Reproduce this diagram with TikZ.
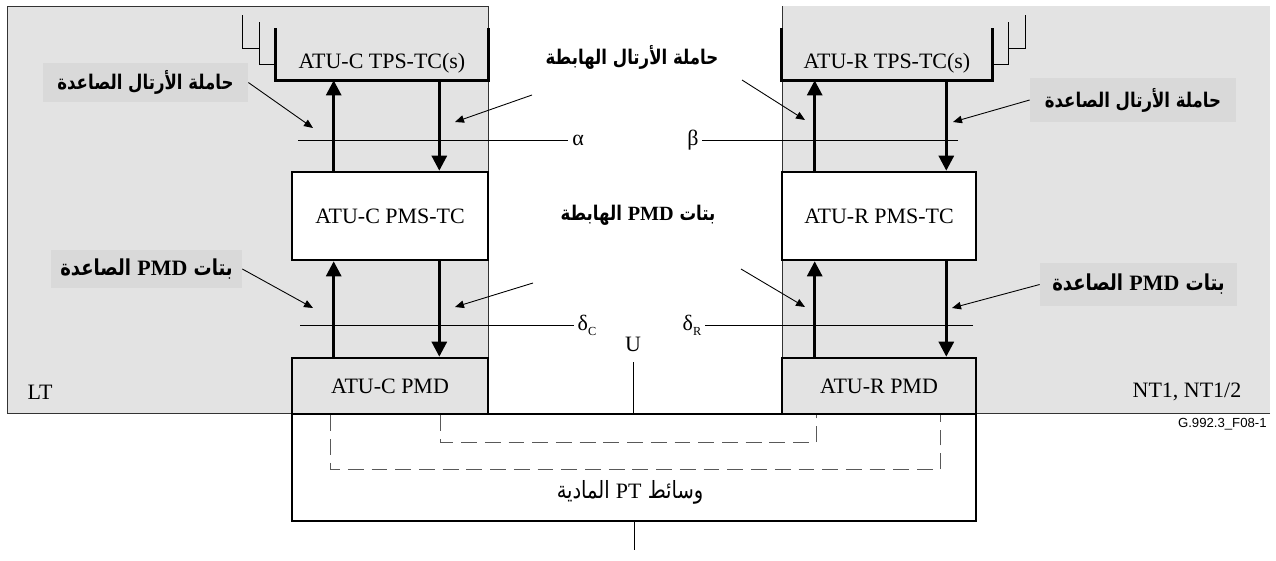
\documentclass[tikz,border=0pt]{standalone}
\usepackage{fontspec}
\setmainfont{Liberation Serif}
\setsansfont{Liberation Sans}
\newfontfamily\arabicfont[Script=Arabic, FakeStretch=0.82]{DejaVu Sans}
\TeXXeTstate=1
\usetikzlibrary{arrows.meta, positioning}

\newcommand{\artext}[1]{{\arabicfont\beginR #1\endR}}
\newcommand{\ltrword}[1]{\beginL{\rmfamily #1}\endL{}}

\begin{document}
\begin{tikzpicture}[
    x=0.02cm, y=-0.02cm,
    zone/.style={fill=gray!22, draw=black!80, line width=0.5pt},
    box/.style={rectangle, draw, line width=1.5pt, align=center, inner sep=0pt, font=\fontsize{12.5}{15}\selectfont},
    opentop/.style={rectangle, align=center, inner sep=0pt, minimum height=0.68cm, font=\fontsize{12.5}{15}\selectfont},
    edge/.style={line width=1.5pt},
    bracket/.style={line width=0.8pt},
    flow/.style={-{Triangle[length=0.3cm, width=0.3cm]}, line width=1.6pt},
    pointer/.style={-{Triangle[length=0.18cm, width=0.15cm]}, line width=0.5pt},
    refline/.style={line width=0.5pt},
    tag/.style={rectangle, fill=gray!30, inner sep=0pt, font=\fontsize{11.5}{13}\selectfont\bfseries},
    headline/.style={font=\fontsize{11.5}{13}\selectfont\bfseries},
    plain/.style={font=\fontsize{12.5}{15}\selectfont, inner sep=2pt},
    loopline/.style={gray!70!black, line width=0.6pt, dash pattern=on 9pt off 4.5pt},
]
\useasboundingbox (0,0) rectangle (1276,561);

% Equipment zones
\draw[zone] (7,6) rectangle (488,413);
\fill[gray!22] (782,6) rectangle (1270,413);
\draw[line width=0.5pt, black!80] (1270,413) -- (782,413) -- (782,6);

% Medium
\node[box, fill=white, minimum width=13.68cm, minimum height=2.14cm] (medium) at (634,467.5) {};
\node[font=\fontsize{13.5}{15}\selectfont] (mediumtxt) at (630,492) {\artext{وسائط \ltrword{\fontsize{12.5}{15}\selectfont PT} المادية}};

% ATU-C stack
\node[opentop, minimum width=4.24cm] (tpsC) at (382,63) {ATU-C TPS-TC(s)};
\node[box, fill=white, minimum width=3.92cm, minimum height=1.76cm] (pmsC) at (390,216) {ATU-C PMS-TC};
\node[box, fill=gray!22, minimum width=3.92cm, minimum height=1.12cm] (pmdC) at (390,386) {ATU-C PMD};

% ATU-R stack
\node[opentop, minimum width=4.2cm] (tpsR) at (887,63) {ATU-R TPS-TC(s)};
\node[box, fill=white, minimum width=3.88cm, minimum height=1.76cm] (pmsR) at (879,216) {ATU-R PMS-TC};
\node[box, fill=gray!22, minimum width=3.88cm, minimum height=1.12cm] (pmdR) at (879,386) {ATU-R PMD};

% Open TPS-TC boxes and their stacked copies
\draw[edge] ([yshift=1.04cm]tpsC.south west) -- (tpsC.south west) -- (tpsC.south east) -- ([yshift=1.04cm]tpsC.south east);
\draw[bracket] ([yshift=0.32cm]tpsC.south west) -| ++(-16,-42);
\draw[bracket] ([xshift=-0.32cm, yshift=0.64cm]tpsC.south west) -| ++(-17,-33);
\draw[edge] ([yshift=1.04cm]tpsR.south west) -- (tpsR.south west) -- (tpsR.south east) -- ([yshift=1.04cm]tpsR.south east);
\draw[bracket] ([yshift=0.32cm]tpsR.south east) -| ++(16,-42);
\draw[bracket] ([xshift=0.32cm, yshift=0.64cm]tpsR.south east) -| ++(17,-33);

% Data flows
\coordinate (laneCu) at ([xshift=0.86cm]pmdC.north west);
\coordinate (laneCd) at ([xshift=-1.0cm]pmdC.north east);
\coordinate (laneRu) at ([xshift=0.68cm]pmdR.north west);
\coordinate (laneRd) at ([xshift=-0.62cm]pmdR.north east);
\draw[flow] (laneCu) -- (laneCu |- pmsC.south);
\draw[flow] (laneCu |- pmsC.north) -- (laneCu |- tpsC.south);
\draw[flow] (laneCd |- tpsC.south) -- (laneCd |- pmsC.north);
\draw[flow] (laneCd |- pmsC.south) -- (laneCd);
\draw[flow] (laneRu) -- (laneRu |- pmsR.south);
\draw[flow] (laneRu |- pmsR.north) -- (laneRu |- tpsR.south);
\draw[flow] (laneRd |- tpsR.south) -- (laneRd |- pmsR.north);
\draw[flow] (laneRd |- pmsR.south) -- (laneRd);

% Physical loop through the medium
\draw[loopline] ([xshift=3cm]pmdC.south west) -- ++(0,27) -| ([xshift=0.72cm]pmdR.south west);
\draw[loopline] ([xshift=0.8cm]pmdC.south west) -- ++(0,54) -| ([xshift=3.2cm]pmdR.south west);

% Reference points
\node[plain] (alpha) at (578,140) {α};
\node[plain] (beta)  at (693,140) {β};
\node[plain] (deltaC) at (587,325) {δ\raisebox{-0.5ex}{\fontsize{7}{8}\selectfont C}};
\node[plain] (deltaR) at (692,325) {δ\raisebox{-0.5ex}{\fontsize{7}{8}\selectfont R}};
\node[plain] (uref) at (633,344) {U};
\coordinate (alphaEnd) at (298,140);
\coordinate (betaEnd) at (958,140);
\coordinate (deltaCEnd) at (300,325);
\coordinate (deltaREnd) at (973,325);
\coordinate (feed) at (634,550);
\draw[refline] (alphaEnd) -- (alphaEnd -| alpha.west);
\draw[refline] (betaEnd) -- (betaEnd -| beta.east);
\draw[refline] (deltaCEnd) -- (deltaCEnd -| deltaC.west);
\draw[refline] (deltaREnd) -- (deltaREnd -| deltaR.east);
\draw[refline] ([yshift=-4pt]uref.south) -- (uref.south |- medium.north);
\draw[refline] (medium.south) -- (feed);

% Labels
\node[tag, minimum width=4.1cm, minimum height=0.78cm] (upfC) at (145.5,82.5) {\artext{حاملة الأرتال الصاعدة}};
\node[tag, minimum width=4.12cm, minimum height=0.9cm] (upfR) at (1133,100) {\artext{حاملة الأرتال الصاعدة}};
\node[tag, font=\fontsize{12.5}{14}\selectfont\bfseries, minimum width=3.82cm, minimum height=0.76cm] (pmdupC) at (146.5,269) {\artext{بتات \ltrword{PMD} الصاعدة}};
\node[tag, font=\fontsize{12.5}{14}\selectfont\bfseries, minimum width=3.94cm, minimum height=0.86cm] (pmdupR) at (1138.5,284.5) {\artext{بتات \ltrword{PMD} الصاعدة}};
\node[headline] (dnf) at (632,57) {\artext{حاملة الأرتال الهابطة}};
\node[headline] (dnpmd) at (638,215) {\artext{بتات \ltrword{PMD} الهابطة}};

\node[plain] (lt) at (40,392) {LT};
\node[plain] (nt) at (1187,392) {NT1, NT1/2};
\node[anchor=east, inner sep=0pt, font=\sffamily\fontsize{7.5}{9}\selectfont] (figid) at (1267,424) {G.992.3\_F08-1};

% Pointers
\coordinate (dnfA) at (532,95);
\coordinate (dnfB) at (742,80);
\coordinate (dnpA) at (533,283);
\coordinate (dnpB) at (741,269);
\draw[pointer] (upfC.east) -- (313,128);
\draw[pointer] (dnfA) -- (455,122);
\draw[pointer] (dnfB) -- (805,120);
\draw[pointer] (upfR.west) -- (953,122);
\draw[pointer] (pmdupC.east) -- (313,308);
\draw[pointer] (dnpA) -- (455,307);
\draw[pointer] (dnpB) -- (805,307);
\draw[pointer] (pmdupR.west) -- (952,308);

\end{tikzpicture}
\end{document}
